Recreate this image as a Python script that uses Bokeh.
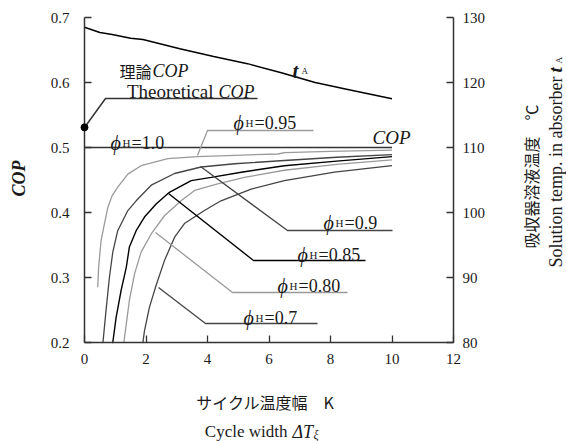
from bokeh.plotting import figure
from bokeh.models import Range1d, LinearAxis, FixedTicker, Label
from bokeh.embed import file_html
from bokeh.resources import INLINE
import math

# ---------------- data ----------------
x_ticks = [0, 2, 4, 6, 8, 10, 12]
cop_ticks = [0.2, 0.3, 0.4, 0.5, 0.6, 0.7]
cop_tick_labels = ["0.2", "0.3", "0.4", "0.5", "0.6", "0.7"]
ta_ticks = [80, 90, 100, 110, 120, 130]

# absorber solution temperature t_A (right axis)
ta_x = [0, 0.5, 0.9, 1.5, 1.9, 3.1, 4.2, 5.3, 6.4, 7.5, 8.6, 10]
ta_y = [128.5, 127.7, 127.4, 126.8, 126.6, 125.2, 124.0, 122.9, 121.5, 120.0, 118.9, 117.5]

# theoretical COP (point on the y axis)
theo_x = [0]
theo_cop = [0.531]

# COP curves for each phi_H
phi10_x = [0, 10]
phi10_cop = [0.5, 0.5]

phi095_x = [0.43, 0.46, 0.54, 0.65, 0.76, 0.9, 1.08, 1.41, 1.84, 2.71, 3.68, 4.88, 6.3, 6.5, 8.0, 10]
phi095_cop = [0.285, 0.316, 0.357, 0.383, 0.408, 0.426, 0.439, 0.459, 0.472, 0.483, 0.486, 0.488, 0.490, 0.492, 0.494, 0.496]

phi09_x = [0.58, 0.6, 0.71, 0.81, 0.92, 1.08, 1.41, 1.68, 2.17, 2.93, 3.79, 4.88, 6.5, 8.2, 10]
phi09_cop = [0.19, 0.198, 0.254, 0.30, 0.339, 0.372, 0.403, 0.418, 0.442, 0.46, 0.470, 0.475, 0.48, 0.485, 0.489]

phi085_x = [0.9, 0.92, 1.03, 1.19, 1.36, 1.46, 1.68, 1.95, 2.33, 2.76, 3.47, 4.12, 5.1, 6.5, 8.2, 10]
phi085_cop = [0.19, 0.198, 0.239, 0.28, 0.316, 0.347, 0.372, 0.393, 0.413, 0.431, 0.449, 0.454, 0.462, 0.472, 0.479, 0.486]

phi080_x = [1.27, 1.28, 1.36, 1.46, 1.63, 1.84, 2.17, 2.6, 3.14, 3.58, 4.33, 5.2, 6.5, 8.2, 10]
phi080_cop = [0.19, 0.198, 0.229, 0.265, 0.306, 0.339, 0.367, 0.395, 0.418, 0.434, 0.444, 0.454, 0.465, 0.474, 0.481]

phi07_x = [1.89, 1.9, 1.95, 2.11, 2.33, 2.6, 2.93, 3.25, 3.9, 4.44, 5.42, 6.5, 8.13, 10]
phi07_cop = [0.19, 0.198, 0.218, 0.254, 0.288, 0.326, 0.362, 0.383, 0.403, 0.418, 0.436, 0.449, 0.462, 0.472]

phi_labels = ["=1.0", "=0.95", "=0.9", "=0.85", "=0.80", "=0.7"]

# ---------------- layout constants ----------------
W, H = 566, 441
FL, FR, FT, FB = 84, 453, 17, 342  # axes box edges in px
XMIN, XMAX = 0, 12
YMIN, YMAX = 0.2, 0.7
TMIN, TMAX = 80, 130

# the plotting frame covers the whole canvas; axes sit at fixed locations
sx = (XMAX - XMIN) / (FR - FL)
sy = (YMAX - YMIN) / (FB - FT)
st = (TMAX - TMIN) / (FB - FT)
XLO, XHI = XMIN - FL * sx, XMIN + (W - FL) * sx
YLO, YHI = YMIN - (H - FB) * sy, YMAX + FT * sy
TLO, THI = TMIN - (H - FB) * st, TMAX + FT * st


def xd(px):
    return XLO + px * sx


def yd(py):
    return YHI - py * sy


SERIF = "Liberation Serif"
CJK = "Noto Sans CJK JP"
INK = "#1a1a1a"

p = figure(width=W, height=H, output_backend="svg", toolbar_location=None,
           x_range=Range1d(XLO, XHI), y_range=Range1d(YLO, YHI),
           min_border=0, min_border_left=0, min_border_right=0,
           min_border_top=0, min_border_bottom=0)
p.extra_y_ranges = {"tA": Range1d(TLO, THI)}
p.outline_line_color = None
p.grid.visible = False
p.background_fill_color = "white"
p.border_fill_color = "white"


def style_axis(ax, standoff):
    ax.axis_line_color = "#333333"
    ax.axis_line_width = 1.5
    ax.major_tick_line_color = "#333333"
    ax.major_tick_line_width = 1.3
    ax.major_tick_in = 7
    ax.major_tick_out = 0
    ax.minor_tick_line_color = None
    ax.major_label_text_font = SERIF
    ax.major_label_text_font_size = "15px"
    ax.major_label_text_color = INK
    ax.major_label_standoff = standoff


xax = p.xaxis[0]
xax.ticker = FixedTicker(ticks=x_ticks)
xax.fixed_location = YMIN
xax.bounds = (XMIN, XMAX)
style_axis(xax, 11)

yax = p.yaxis[0]
yax.ticker = FixedTicker(ticks=cop_ticks)
yax.major_label_overrides = dict(zip(cop_ticks, cop_tick_labels))
yax.fixed_location = XMIN
yax.bounds = (YMIN, YMAX)
style_axis(yax, 15)

rax = LinearAxis(y_range_name="tA", ticker=FixedTicker(ticks=ta_ticks),
                 fixed_location=XMAX, bounds=(TMIN, TMAX))
style_axis(rax, 9)
p.add_layout(rax, "right")


# curves (kept inside the axes box)
def clipped(xs, ys):
    return list(xs), [max(b, YMIN) for b in ys]


p.line(ta_x, ta_y, y_range_name="tA", line_color="black", line_width=1.5)
p.line(phi10_x, phi10_cop, line_color="#333333", line_width=1.3)
p.line(*clipped(phi095_x, phi095_cop), line_color="#9a9a9a", line_width=1.3)
p.line(*clipped(phi09_x, phi09_cop), line_color="#444444", line_width=1.3)
p.line(*clipped(phi085_x, phi085_cop), line_color="black", line_width=1.4)
p.line(*clipped(phi080_x, phi080_cop), line_color="#9a9a9a", line_width=1.3)
p.line(*clipped(phi07_x, phi07_cop), line_color="#444444", line_width=1.3)
p.scatter(theo_x, theo_cop, size=7, color="black", level="overlay")

# leader lines (annotation geometry, px)
leaders = [
    ([84, 105, 257], [127, 98, 98], "#333333", 1.5),
    ([197, 207, 313], [155, 130, 130], "#9a9a9a", 1.3),
    ([200, 287, 392], [166, 230, 230], "#444444", 1.3),
    ([168, 253, 365], [193, 260, 260], "black", 1.4),
    ([155, 232, 347], [232, 292, 292], "#9a9a9a", 1.3),
    ([158, 205, 317], [287, 323, 323], "#444444", 1.3),
]
for lx, ly, c, w in leaders:
    p.line([xd(v) for v in lx], [yd(v) for v in ly], line_color=c, line_width=w)


def lab(px, py, text, size, style="normal", font=SERIF, align="left",
        baseline="alphabetic", angle=0.0):
    p.add_layout(Label(x=xd(px), y=yd(py), text=text, text_font=font,
                       text_font_size=f"{size}px", text_font_style=style,
                       text_align=align, text_baseline=baseline, angle=angle,
                       text_color=INK))


# phi_H labels: (left x, baseline y)
phi_pos = [(110, 142), (233, 122), (323, 222), (297, 254), (277, 285), (243, 317)]
for (x0, yb), t in zip(phi_pos, phi_labels):
    lab(x0, yb, "\u03d5", 20, "italic")
    lab(x0 + 12, yb, "H", 11)
    lab(x0 + 21, yb, t, 18)

# theoretical COP annotation
lab(151, 70, "理論", 16, font=CJK, align="right")
lab(152, 70, "COP", 18, "italic")
lab(213, 91, "Theoretical", 19, align="right")
lab(218, 91, "COP", 18, "italic")

# t_A and COP curve labels
lab(292, 70, "t", 21, "bold italic")
lab(301, 70, "A", 9)
lab(372, 137, "COP", 19, "italic")

# axis titles
lab(18, 178, "COP", 18, "bold italic", align="center", baseline="middle", angle=math.pi / 2)
lab(265, 401, "サイクル温度幅　K", 16, font=CJK, align="center", baseline="middle")
lab(287, 431, "Cycle width", 17, align="right")
lab(292, 431, "\u0394T", 18, "italic")
lab(313, 434, "\u03be", 12, "italic")
lab(530, 176, "吸収器溶液温度　℃", 16, font=CJK, align="center", baseline="middle", angle=math.pi / 2)
lab(555, 76, "Solution temp. in absorber", 18, align="right", angle=math.pi / 2)
lab(555, 72, "t", 19, "bold italic", angle=math.pi / 2)
lab(558, 63, "A", 9, angle=math.pi / 2)

open("out.html", "w").write(file_html(p, INLINE))
